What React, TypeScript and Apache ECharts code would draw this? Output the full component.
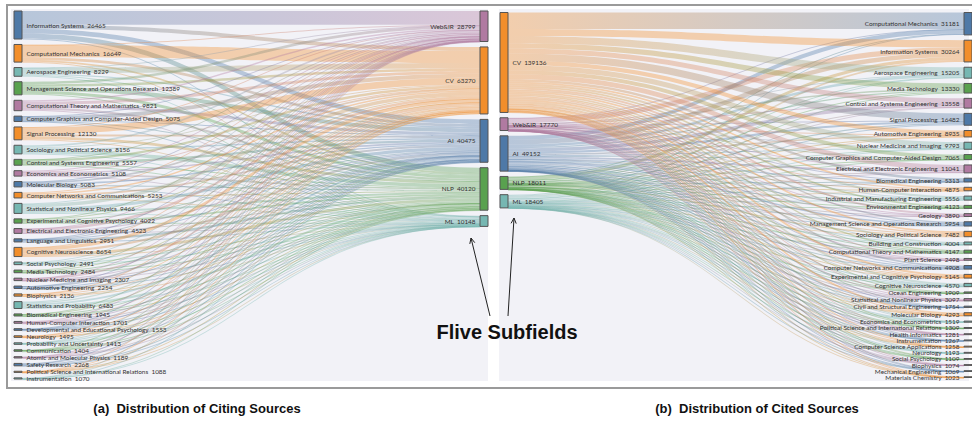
import React, { useEffect, useRef } from 'react';
import * as echarts from 'echarts';

// ---------- (a) Citing sources -> five subfields ----------
const citingSources = [
  'Information Systems', 'Computational Mechanics', 'Aerospace Engineering',
  'Management Science and Operations Research', 'Computational Theory and Mathematics',
  'Computer Graphics and Computer-Aided Design', 'Signal Processing', 'Sociology and Political Science',
  'Control and Systems Engineering', 'Economics and Econometrics', 'Molecular Biology',
  'Computer Networks and Communications', 'Statistical and Nonlinear Physics',
  'Experimental and Cognitive Psychology', 'Electrical and Electronic Engineering',
  'Language and Linguistics', 'Cognitive Neuroscience', 'Social Psychology', 'Media Technology',
  'Nuclear Medicine and Imaging', 'Automotive Engineering', 'Biophysics', 'Statistics and Probability',
  'Biomedical Engineering', 'Human-Computer Interaction', 'Developmental and Educational Psychology',
  'Neurology', 'Probability and Uncertainty', 'Communication', 'Atomic and Molecular Physics',
  'Safety Research', 'Political Science and International Relations', 'Instrumentation',
];
const citingValues = [
  26465, 16649, 8229, 12389, 9821, 5075, 12130, 8156, 5557, 5108, 5083, 5253, 9466, 4022, 4523,
  2951, 8654, 2491, 2484, 2307, 2254, 2136, 6483, 1945, 1701, 1553, 1495, 1413, 1404, 1189, 2268,
  1088, 1070,
];
const subfieldsA = ['Web&IR', 'CV', 'AI', 'NLP', 'ML'];
const subfieldsAValues = [28799, 63270, 40475, 40120, 10148];
// each row: [Web&IR, CV, AI, NLP, ML]
const citingFlows = [
  [13000, 3700, 4500, 4800, 465],
  [500, 11500, 2600, 1800, 249],
  [300, 5200, 1400, 900, 429],
  [2500, 2200, 3800, 2900, 989],
  [1500, 2800, 2600, 2100, 821],
  [200, 3600, 600, 400, 275],
  [600, 6444, 2000, 2500, 586],
  [1779, 1076, 1575, 3270, 456],
  [200, 2200, 2100, 600, 457],
  [900, 600, 1500, 1600, 508],
  [300, 1600, 1300, 1300, 583],
  [1000, 1300, 1800, 700, 453],
  [600, 3500, 3000, 1900, 466],
  [300, 800, 900, 1800, 222],
  [200, 2300, 1200, 500, 323],
  [300, 200, 300, 2050, 101],
  [400, 2900, 2200, 2600, 554],
  [700, 300, 400, 1000, 91],
  [700, 800, 300, 600, 84],
  [50, 1700, 250, 200, 107],
  [50, 1500, 450, 150, 104],
  [100, 800, 600, 400, 236],
  [800, 1200, 1800, 2100, 583],
  [100, 1100, 350, 300, 95],
  [500, 400, 300, 450, 51],
  [250, 300, 300, 650, 53],
  [50, 700, 300, 350, 95],
  [100, 200, 600, 300, 213],
  [300, 150, 200, 700, 54],
  [50, 500, 250, 200, 189],
  [150, 900, 600, 450, 168],
  [300, 100, 200, 450, 38],
  [20, 700, 200, 100, 50],
];

// ---------- (b) five subfields -> cited sources ----------
const subfieldsB = ['CV', 'Web&IR', 'AI', 'NLP', 'ML'];
const subfieldsBValues = [139136, 17770, 49152, 18011, 18405];
const citedTargets = [
  'Computational Mechanics', 'Information Systems', 'Aerospace Engineering', 'Media Technology',
  'Control and Systems Engineering', 'Signal Processing', 'Automotive Engineering',
  'Nuclear Medicine and Imaging', 'Computer Graphics and Computer-Aided Design',
  'Electrical and Electronic Engineering', 'Biomedical Engineering', 'Human-Computer Interaction',
  'Industrial and Manufacturing Engineering', 'Environmental Engineering', 'Geology',
  'Management Science and Operations Research', 'Sociology and Political Science',
  'Building and Construction', 'Computational Theory and Mathematics', 'Plant Science',
  'Computer Networks and Communications', 'Experimental and Cognitive Psychology',
  'Cognitive Neuroscience', 'Ocean Engineering', 'Statistical and Nonlinear Physics',
  'Civil and Structural Engineering', 'Molecular Biology', 'Economics and Econometrics',
  'Political Science and International Relations', 'Health Informatics', 'Instrumentation',
  'Computer Science Applications', 'Neurology', 'Social Psychology', 'Biophysics',
  'Mechanical Engineering', 'Materials Chemistry',
];
const citedValues = [
  31181, 30264, 15205, 13330, 13558, 16482, 8935, 9793, 7065, 11041, 5313, 4875, 5556, 4123, 3890,
  5954, 7482, 4004, 4147, 2498, 4908, 5145, 4570, 1909, 3097, 1754, 4293, 1519, 1309, 1281, 1267,
  1258, 1193, 1109, 1074, 1069, 1023,
];
// each row: [CV, Web&IR, AI, NLP, ML]
const citedFlows = [
  [22874, 500, 5702, 800, 1305],
  [9963, 7060, 6500, 4241, 2500],
  [9905, 200, 3500, 400, 1200],
  [7430, 2000, 1800, 1500, 600],
  [6958, 200, 4500, 500, 1400],
  [9982, 500, 3000, 1500, 1500],
  [5935, 100, 2000, 300, 600],
  [7393, 100, 1200, 300, 800],
  [5465, 300, 800, 200, 300],
  [7041, 200, 2500, 400, 900],
  [3513, 100, 900, 300, 500],
  [2475, 900, 700, 600, 200],
  [3056, 200, 1500, 300, 500],
  [2523, 100, 900, 200, 400],
  [2640, 50, 700, 100, 400],
  [2154, 800, 2000, 400, 600],
  [2382, 1500, 1300, 1800, 500],
  [2504, 100, 900, 200, 300],
  [1947, 300, 1200, 300, 400],
  [1848, 50, 300, 100, 200],
  [2308, 700, 1300, 300, 300],
  [3045, 300, 700, 800, 300],
  [2870, 100, 800, 500, 300],
  [1259, 20, 400, 80, 150],
  [1697, 100, 700, 200, 400],
  [1094, 30, 400, 80, 150],
  [2793, 100, 600, 300, 500],
  [419, 300, 400, 200, 200],
  [409, 300, 200, 300, 100],
  [531, 100, 300, 200, 150],
  [897, 20, 200, 50, 100],
  [608, 150, 300, 100, 100],
  [763, 30, 200, 100, 100],
  [459, 200, 150, 250, 50],
  [654, 20, 200, 50, 150],
  [669, 20, 250, 30, 100],
  [673, 20, 150, 30, 150],
];

const BLUE = '#4e79a7';
const ORANGE = '#f28e2b';
const TEAL = '#76b7b2';
const GREEN = '#59a14f';
const PURPLE = '#b07aa1';
const cycle = [BLUE, ORANGE, TEAL, GREEN, PURPLE];
const subfieldColor: Record<string, string> = {
  'Web&IR': PURPLE, CV: ORANGE, AI: BLUE, NLP: GREEN, ML: TEAL,
};

const LABEL_FONT = 'Lato, "Liberation Sans", sans-serif';

function labelFormatter(p: any) {
  return p.name + '  ' + p.value;
}

export default function App() {
  const ref = useRef<HTMLDivElement>(null);

  useEffect(() => {
    document.body.style.margin = '0';
    if (!ref.current) return;
    const chart = echarts.init(ref.current, undefined, { renderer: 'svg' });

    const nodesA: any[] = [];
    citingSources.forEach((n, i) => {
      nodesA.push({ name: n, value: citingValues[i], itemStyle: { color: cycle[i % 5] } });
    });
    subfieldsA.forEach((n, i) => {
      nodesA.push({
        name: n, value: subfieldsAValues[i],
        itemStyle: { color: subfieldColor[n] },
        label: { position: 'left' },
      });
    });
    const linksA: any[] = [];
    citingFlows.forEach((row, i) => {
      row.forEach((v, j) => {
        linksA.push({ source: citingSources[i], target: subfieldsA[j], value: v });
      });
    });

    const nodesB: any[] = [];
    subfieldsB.forEach((n, i) => {
      nodesB.push({ name: n, value: subfieldsBValues[i], itemStyle: { color: subfieldColor[n] } });
    });
    citedTargets.forEach((n, i) => {
      nodesB.push({
        name: n, value: citedValues[i],
        itemStyle: { color: cycle[i % 5] },
        label: { position: 'left' },
      });
    });
    const linksB: any[] = [];
    citedFlows.forEach((row, i) => {
      row.forEach((v, j) => {
        linksB.push({ source: subfieldsB[j], target: citedTargets[i], value: v });
      });
    });

    const common = {
      type: 'sankey',
      nodeWidth: 8,
      layoutIterations: 0,
      draggable: false,
      emphasis: { disabled: true },
      silent: true,
      label: {
        fontSize: 6.4,
        lineHeight: 5.6,
        color: '#333',
        fontFamily: LABEL_FONT,
        distance: 4,
        formatter: labelFormatter,
      },
      lineStyle: { color: 'gradient', opacity: 0.36, curveness: 0.5 },
      itemStyle: { borderColor: '#555', borderWidth: 1 },
    };

    chart.setOption({
      animation: false,
      graphic: [
        {
          type: 'rect', z: -10, silent: true,
          shape: { x: 7, y: 5, width: 990, height: 383 },
          style: { fill: '#fff', stroke: '#9a9a9a', lineWidth: 2 },
        },
        {
          type: 'rect', z: -9, silent: true,
          shape: { x: 11, y: 9, width: 477, height: 372 },
          style: { fill: '#f2f2f7' },
        },
        {
          type: 'rect', z: -9, silent: true,
          shape: { x: 499, y: 9, width: 470, height: 372 },
          style: { fill: '#f2f2f7' },
        },
        {
          type: 'line', z: 100, silent: true,
          shape: { x1: 490, y1: 316, x2: 471, y2: 238 },
          style: { stroke: '#222', lineWidth: 1 },
        },
        {
          type: 'polyline', z: 100, silent: true,
          shape: { points: [[469.8, 243.9], [471, 238], [474.8, 242.7]] },
          style: { stroke: '#222', lineWidth: 1, fill: 'none' },
        },
        {
          type: 'line', z: 100, silent: true,
          shape: { x1: 508, y1: 316, x2: 514, y2: 218 },
          style: { stroke: '#222', lineWidth: 1 },
        },
        {
          type: 'polyline', z: 100, silent: true,
          shape: { points: [[511.1, 223.3], [514, 218], [516.2, 223.6]] },
          style: { stroke: '#222', lineWidth: 1, fill: 'none' },
        },
        {
          type: 'text', z: 100, silent: true,
          x: 507, y: 332,
          style: {
            text: 'Flive Subfields', fill: '#111',
            font: 'bold 20px "Liberation Sans", Arial, sans-serif',
            align: 'center', verticalAlign: 'middle',
          },
        },
        {
          type: 'text', z: 100, silent: true,
          x: 197, y: 408,
          style: {
            text: '(a)  Distribution of Citing Sources', fill: '#111',
            font: 'bold 13px "Liberation Sans", Arial, sans-serif',
            align: 'center', verticalAlign: 'middle',
          },
        },
        {
          type: 'text', z: 100, silent: true,
          x: 757, y: 408,
          style: {
            text: '(b)  Distribution of Cited Sources', fill: '#111',
            font: 'bold 13px "Liberation Sans", Arial, sans-serif',
            align: 'center', verticalAlign: 'middle',
          },
        },
      ],
      series: [
        {
          ...common,
          left: 14, top: 11, width: 474, height: 368,
          nodeGap: 5.45,
          data: nodesA,
          links: linksA,
        },
        {
          ...common,
          left: 500, top: 12.5, width: 472, height: 365,
          nodeGap: 5.3,
          data: nodesB,
          links: linksB,
        },
      ],
    });

    return () => chart.dispose();
  }, []);

  return <div ref={ref} style={{ width: 972, height: 421 }} />;
}
